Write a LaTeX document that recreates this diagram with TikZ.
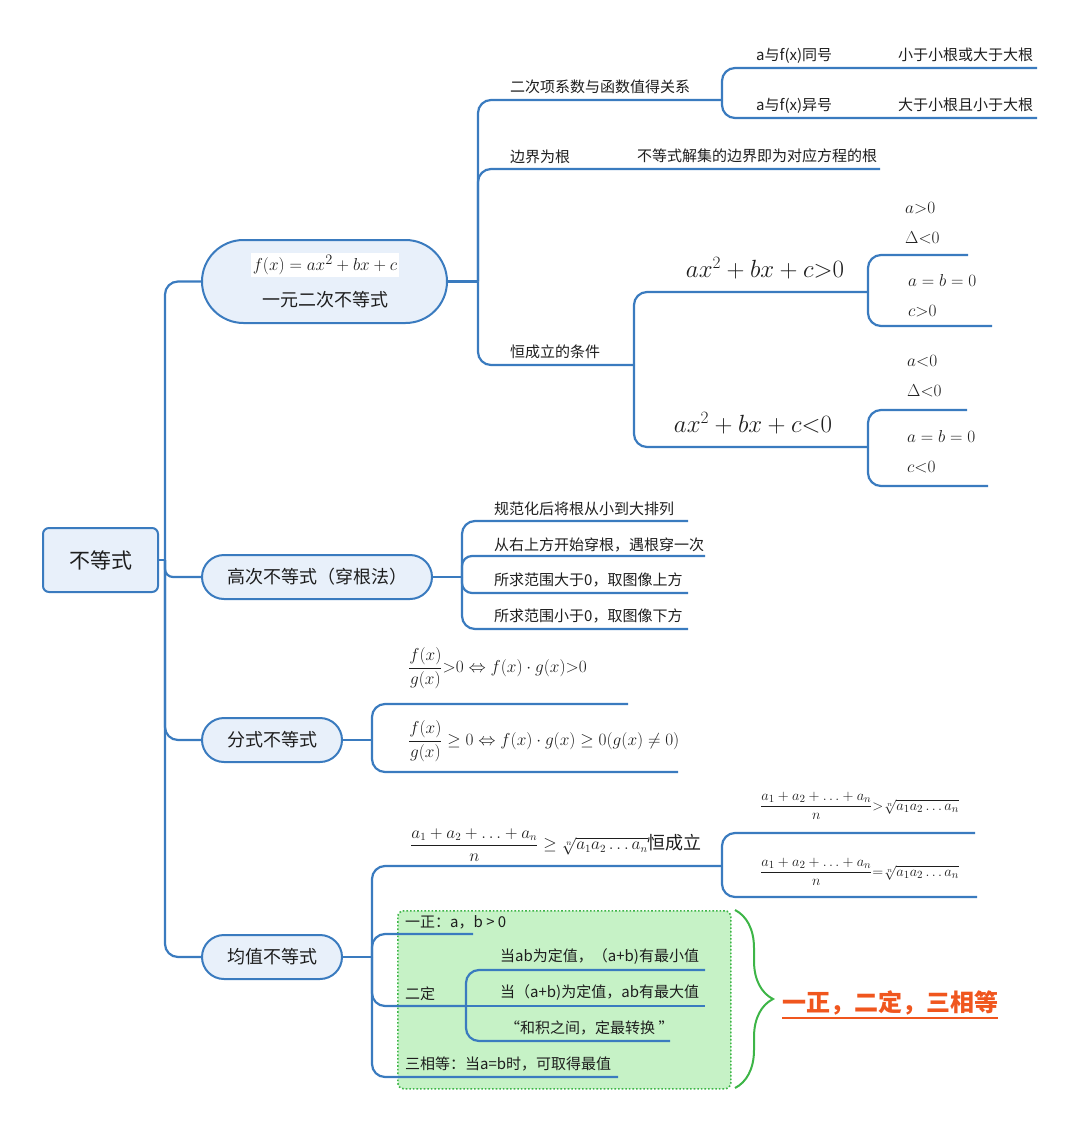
\documentclass[tikz,border=0pt]{standalone}
\usepackage{amsmath}
\usepackage[no-math]{fontspec}
\setmainfont{Noto Sans CJK SC}
\usetikzlibrary{shapes.misc,decorations.pathreplacing}
\definecolor{lb}{HTML}{3A7BBF}
\definecolor{nodefill}{HTML}{E8F0FA}
\definecolor{gfill}{HTML}{C6F2C6}
\definecolor{gline}{HTML}{3DB547}
\definecolor{orng}{HTML}{F0561E}
\definecolor{txt}{HTML}{1E1E1E}
\tikzset{
  br/.style={draw=lb, line width=2.2pt, rounded corners=13pt},
  pill/.style={rounded rectangle, draw=lb, line width=2pt, fill=nodefill, inner sep=0pt, text=txt},
  rootbox/.style={rectangle, rounded corners=6pt, draw=lb, line width=2pt, fill=nodefill, inner sep=0pt, text=txt},
  lab/.style={anchor=west, inner sep=0pt, text=txt, font=\fontsize{15}{17}\selectfont},
  mlab/.style={anchor=west, inner sep=0pt, text=txt, font=\fontsize{19}{22}\selectfont},
  big/.style={anchor=center, inner sep=0pt, text=txt, font=\fontsize{26}{30}\selectfont},
}
\begin{document}
\begin{tikzpicture}[x=1pt,y=-1pt]
\useasboundingbox (0,0) rectangle (1080,1132);
% green box
\node[draw=gline, dotted, line width=1.6pt, fill=gfill, rounded corners=6pt, minimum width=333pt, minimum height=178pt, anchor=north west, inner sep=0pt] (gbox) at (397,910) {};

% main nodes
\node[rootbox, minimum width=115pt, minimum height=64pt, font=\fontsize{21}{24}\selectfont] (root) at (100.5,560) {不等式};
\node[pill, minimum width=245pt, minimum height=83pt] (n1) at (324.5,281.5) {};
\node[fill=white, inner sep=2pt, text=txt, font=\fontsize{19}{22}\selectfont] (f1) at (325,265) {$f(x)=ax^2+bx+c$};
\node[text=txt, inner sep=0pt, font=\fontsize{18}{21}\selectfont] (t1) at (325,300) {一元二次不等式};
\node[pill, minimum width=230pt, minimum height=44pt, font=\fontsize{18}{21}\selectfont] (n2) at (317,577) {高次不等式（穿根法）};
\node[pill, minimum width=140pt, minimum height=44pt, font=\fontsize{18}{21}\selectfont] (n3) at (272,740) {分式不等式};
\node[pill, minimum width=140pt, minimum height=44pt, font=\fontsize{18}{21}\selectfont] (n4) at (272,957) {均值不等式};

% root spine
\coordinate (rs) at (165,560);
\draw[br] (root.east) -- (rs);
\draw[br] (rs) |- (n1.west);
\draw[br, rounded corners=8pt] (rs) |- (n2.west);
\draw[br] (rs) |- (n3.west);
\draw[br] (rs) |- (n4.west);

% ---- n1 subtree
\coordinate (s1) at (478,281.5);
\draw[br] (n1.east) -- (s1);
\coordinate (s1a) at (722,100);
\coordinate (s1c) at (634,365);
\draw[br] (s1) |- (s1a);
\draw[br] (s1) |- (880,169);
\draw[br] (s1) |- (s1c);
\draw[br] (s1a) |- (1037,68);
\draw[br] (s1a) |- (1037,118);
\node[lab] (l1) at (510,87) {二次项系数与函数值得关系};
\node[lab] (l1a) at (756,56) {a与f(x)同号};
\node[lab] (l1b) at (898,55) {小于小根或大于大根};
\node[lab] (l1c) at (756,106) {a与f(x)异号};
\node[lab] (l1d) at (898,105) {大于小根且小于大根};
\node[lab] (l2) at (510,157) {边界为根};
\node[lab] (l2a) at (637,156) {不等式解集的边界即为对应方程的根};
\node[lab] (l3) at (510,352) {恒成立的条件};

\coordinate (s2a) at (868,292);
\coordinate (s2b) at (868,447);
\draw[br] (s1c) |- (s2a);
\draw[br] (s1c) |- (s2b);
\node[big] (g1) at (765,268) {$ax^2+bx+c{>}0$};
\node[big] (g2) at (753,423) {$ax^2+bx+c{<}0$};
\draw[br] (s2a) |- (968,255);
\draw[br] (s2a) |- (992,326);
\draw[br] (s2b) |- (967,410);
\draw[br] (s2b) |- (988,486);
\node[mlab] (c1) at (905,208) {$a{>}0$};
\node[mlab] (c2) at (905,238) {$\Delta{<}0$};
\node[mlab] (c3) at (908,280) {$a=b=0$};
\node[mlab] (c4) at (908,311) {$c{>}0$};
\node[mlab] (c5) at (907,361) {$a{<}0$};
\node[mlab] (c6) at (907,391) {$\Delta{<}0$};
\node[mlab] (c7) at (907,436) {$a=b=0$};
\node[mlab] (c8) at (907,467) {$c{<}0$};

% ---- n2 subtree
\coordinate (s3) at (462,577);
\draw[br] (n2.east) -- (s3);
\draw[br] (s3) |- (688,521);
\draw[br, rounded corners=10pt] (s3) |- (705,556);
\draw[br, rounded corners=10pt] (s3) |- (688,593);
\draw[br] (s3) |- (688,629);
\node[lab] (h1) at (494,509) {规范化后将根从小到大排列};
\node[lab] (h2) at (494,545) {从右上方开始穿根，遇根穿一次};
\node[lab] (h3) at (494,580) {所求范围大于0，取图像上方};
\node[lab] (h4) at (494,616) {所求范围小于0，取图像下方};

% ---- n3 subtree
\coordinate (s4) at (372,740);
\draw[br] (n3.east) -- (s4);
\draw[br] (s4) |- (628,704);
\draw[br] (s4) |- (678,772);
\node[mlab, font=\fontsize{18.5}{21}\selectfont] (p1) at (408,668) {$\dfrac{f(x)}{g(x)}{>}0\Leftrightarrow f(x)\cdot g(x){>}0$};
\node[mlab, font=\fontsize{16.5}{20}\selectfont] (p2) at (408,741) {$\dfrac{f(x)}{g(x)}\geq 0\Leftrightarrow f(x)\cdot g(x)\geq 0(g(x)\neq 0)$};

% ---- n4 subtree
\coordinate (s5) at (372,957);
\coordinate (s5a) at (722,866);
\coordinate (s5b) at (466,1006);
\draw[br] (n4.east) -- (s5);
\draw[br] (s5) |- (s5a);
\draw[br] (s5a) |- (975,833);
\draw[br] (s5a) |- (977,897);
\draw[br] (s5) |- (473,934);
\draw[br] (s5) |- (s5b);
\draw[br] (s5) |- (618,1077);
\draw[br] (s5b) |- (705,970);
\draw[br] (s5b) -- (705,1006);
\draw[br] (s5b) |- (670,1041);
\node[mlab, font=\fontsize{16}{19}\selectfont] (m1) at (410,845) {$\dfrac{a_1+a_2+\ldots+a_n}{n}\geq\sqrt[n]{a_1a_2\ldots a_n}$\fontsize{18}{20}\selectfont 恒成立};
\node[mlab, font=\fontsize{15}{18}\selectfont] (m2) at (760,806) {$\dfrac{a_1+a_2+\ldots+a_n}{n}{>}\sqrt[n]{a_1a_2\ldots a_n}$};
\node[mlab, font=\fontsize{15}{18}\selectfont] (m3) at (760,872) {$\dfrac{a_1+a_2+\ldots+a_n}{n}{=}\sqrt[n]{a_1a_2\ldots a_n}$};
\node[lab] (e1) at (405,922) {一正：a，b > 0};
\node[lab] (e2) at (405,994) {二定};
\node[lab] (e3) at (500,957) {当ab为定值，（a+b)有最小值};
\node[lab] (e4) at (500,993) {当（a+b)为定值，ab有最大值};
\node[lab] (e5) at (505,1028) {“和积之间，定最转换 ”};
\node[lab] (e6) at (405,1064) {三相等：当a=b时，可取得最值};

% brace and summary
\coordinate (bt) at (735,910);
\coordinate (bb) at (735,1088);
\draw[gline, line width=2pt, decorate, decoration={brace, amplitude=38pt, aspect=0.5}] (bt) -- (bb);
\node[anchor=west, inner sep=0pt, text=orng, font=\fontsize{24}{28}\selectfont\bfseries] (sum) at (782,1003) {一正，二定，三相等};
\draw[orng, line width=2pt] (sum.south west) ++(0,3) -- ([yshift=-3pt]sum.south east);
\end{tikzpicture}
\end{document}
